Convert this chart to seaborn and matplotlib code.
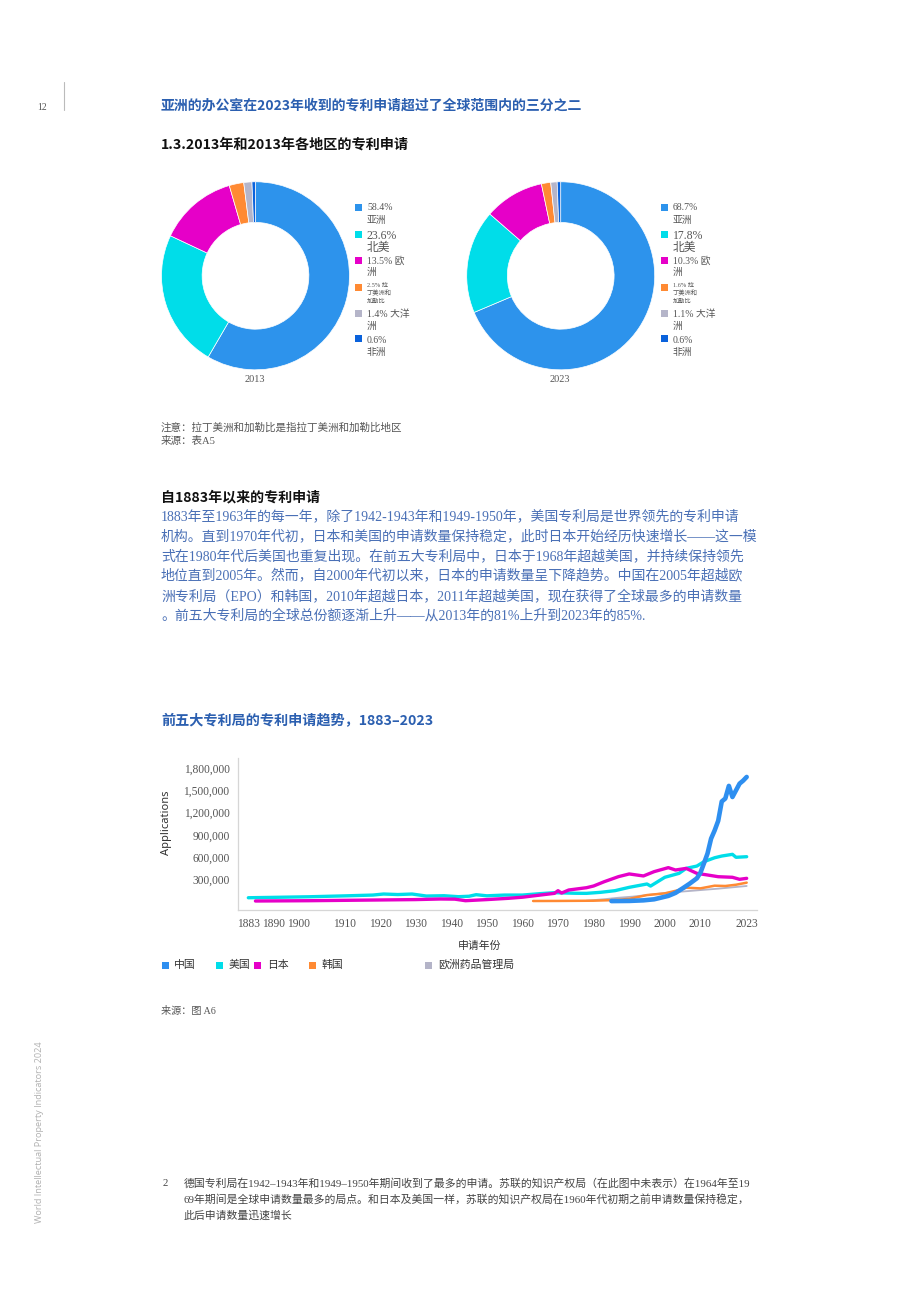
import matplotlib
matplotlib.use('Agg')
import matplotlib.pyplot as plt
import seaborn as sns
import pandas as pd
import numpy as np
from matplotlib.patches import Rectangle
from matplotlib.lines import Line2D
from matplotlib.transforms import ScaledTranslation

# ---------------- data ----------------
regions = ['亚洲', '北美', '欧洲', '拉丁美洲和加勒比', '大洋洲', '非洲']
share_2013 = [58.4, 23.6, 13.5, 2.5, 1.4, 0.6]
share_2023 = [68.7, 17.8, 10.3, 1.6, 1.1, 0.6]
region_colors = ['#2d93ec', '#00dde9', '#e600c8', '#ff8a33', '#b5b5c9', '#0a62dc']
# how each legend label breaks into lines in the reference
legend_fmt = ['{p}%|亚洲', '{p}%|北美', '{p}% 欧|洲', '{p}% 拉|丁美洲和|加勒比', '{p}% 大洋|洲', '{p}%|非洲']

offices = ['欧洲药品管理局', '韩国', '美国', '日本', '中国']
legend_offices = ['中国', '美国', '日本', '韩国', '欧洲药品管理局']
office_colors = {'中国': '#2e8ff0', '美国': '#00dde9', '日本': '#e600c8',
                 '韩国': '#ff8a33', '欧洲药品管理局': '#b4b4c8'}

china_years = [1985, 1990, 1994, 1997, 2001, 2003, 2005, 2007, 2009, 2010, 2011, 2012,
               2013, 2014, 2015, 2016, 2017, 2018, 2019, 2020, 2021, 2022, 2023]
china_k = [10, 12, 20, 34, 80, 120, 181, 245, 316, 390, 518, 650,
           850, 960, 1090, 1350, 1390, 1560, 1410, 1500, 1590, 1630, 1680]

us_years = [1883, 1890, 1900, 1910, 1918, 1921, 1925, 1929, 1933, 1938, 1942, 1945, 1947,
            1950, 1955, 1960, 1965, 1969, 1975, 1978, 1982, 1986, 1990, 1995, 1996, 2000,
            2004, 2006, 2009, 2011, 2014, 2016, 2019, 2020, 2023]
us_k = [55, 60, 68, 80, 91, 105, 98, 105, 78, 82, 69, 75, 96,
        81, 91, 91, 110, 123, 115, 114, 128, 150, 195, 240, 212, 330,
        383, 450, 481, 540, 593, 616, 639, 599, 607]

japan_years = [1885, 1900, 1918, 1930, 1937, 1941, 1944, 1950, 1956, 1960, 1965, 1969,
               1970, 1971, 1973, 1978, 1980, 1983, 1987, 1990, 1994, 1997, 2001, 2003,
               2006, 2009, 2012, 2015, 2019, 2021, 2023]
japan_k = [11, 15, 24, 30, 38, 36, 15, 30, 47, 62, 91, 114,
           150, 118, 159, 190, 213, 271, 339, 375, 348, 406, 460, 428,
           450, 383, 361, 338, 330, 303, 316]

korea_years = [1963, 1970, 1980, 1986, 1990, 1995, 1997, 2000, 2004, 2006, 2010, 2014,
               2017, 2020, 2023]
korea_k = [11, 12, 15, 24, 40, 91, 100, 114, 159, 190, 181, 217, 213, 230, 258]

epo_years = [1978, 1983, 1987, 1991, 1995, 2001, 2008, 2015, 2023]
epo_k = [15, 35, 55, 70, 91, 123, 150, 177, 213]

x_ticks = [1883, 1890, 1900, 1910, 1920, 1930, 1940, 1950, 1960, 1970, 1980, 1990, 2000, 2010, 2023]
y_ticks = [300000, 600000, 900000, 1200000, 1500000, 1800000]

paragraph = [
    '1883年至1963年的每一年，除了1942-1943年和1949-1950年，美国专利局是世界领先的专利申请',
    '机构。直到1970年代初，日本和美国的申请数量保持稳定，此时日本开始经历快速增长——这一模',
    '式在1980年代后美国也重复出现。在前五大专利局中，日本于1968年超越美国，并持续保持领先',
    '地位直到2005年。然而，自2000年代初以来，日本的申请数量呈下降趋势。中国在2005年超越欧',
    '洲专利局（EPO）和韩国，2010年超越日本，2011年超越美国，现在获得了全球最多的申请数量',
    '。前五大专利局的全球总份额逐渐上升——从2013年的81%上升到2023年的85%.',
]
footnote = [
    '德国专利局在1942–1943年和1949–1950年期间收到了最多的申请。苏联的知识产权局（在此图中未表示）在1964年至19',
    '69年期间是全球申请数量最多的局点。和日本及美国一样，苏联的知识产权局在1960年代初期之前申请数量保持稳定，',
    '此后申请数量迅速增长',
]

# ---------------- style ----------------
sns.set_theme(style='white')
SANS = ['Noto Sans CJK SC', 'DejaVu Sans']
SERIF = ['Liberation Serif', 'Noto Sans CJK SC', 'DejaVu Sans']
plt.rcParams['font.family'] = SERIF
plt.rcParams['axes.unicode_minus'] = False

W, H = 920, 1302
fig = plt.figure(figsize=(W / 100, H / 100), dpi=100)
fig.patch.set_facecolor('white')


def fx(x):
    return x / W


def fy(y):
    return 1 - y / H


def txt(x, y, s, size, color='#222222', family=SERIF, weight='normal', ha='left', va='center', **kw):
    fig.text(fx(x), fy(y), s, fontsize=size, color=color, family=family,
             fontweight=weight, ha=ha, va=va, **kw)


def square(x, y, color, s=7):
    fig.add_artist(Rectangle((fx(x - s / 2), fy(y + s / 2)), s / W, s / H,
                             transform=fig.transFigure, facecolor=color, edgecolor='none'))


# page number and rule
txt(42, 108, '12', 7, color='#555555', ha='center')
fig.add_artist(Line2D([fx(64), fx(64)], [fy(82), fy(110)], transform=fig.transFigure,
                      color='#bbbbbb', linewidth=0.8))

# headings
txt(161, 106, '亚洲的办公室在2023年收到的专利申请超过了全球范围内的三分之二', 10,
    color='#2b5fb0', family=SANS, weight='bold')
txt(161, 145, '1.3.2013年和2013年各地区的专利申请', 10.2, color='#111111', family=SANS, weight='bold')

# ---------------- donuts ----------------
R = 94
for cx, shares, year, lx in [(255.5, share_2013, '2013', 358), (560.7, share_2023, '2023', 664)]:
    cy = 275.8
    ax = fig.add_axes([fx(cx - R), fy(cy + R), 2 * R / W, 2 * R / H])
    ax.pie(shares, colors=region_colors, startangle=90, counterclock=False,
           wedgeprops=dict(width=0.432, edgecolor='white', linewidth=0.5))
    ax.set_xlim(-1, 1)
    ax.set_ylim(-1, 1)
    ax.set_aspect('equal')
    ax.axis('off')
    txt(cx - 1, 380, year, 7.5, color='#555555', ha='center')

    sq_y = [207, 234, 260, 287, 313, 339]
    line_y = [208, 236, 261, 285, 314, 340]
    gaps = [12, 12, 11, 8, 12, 12]
    sizes = [7, 8.5, 7, 4.5, 7, 7]
    for i, (p, fmt) in enumerate(zip(shares, legend_fmt)):
        square(lx, sq_y[i], region_colors[i], s=7)
        for j, part in enumerate(fmt.format(p=p).split('|')):
            txt(lx + 9, line_y[i] + j * gaps[i], part, sizes[i], color='#555555')

txt(161, 428, '注意：拉丁美洲和加勒比是指拉丁美洲和加勒比地区', 7.6, color='#555555')
txt(161, 441, '来源：表A5', 7.6, color='#555555')

# section text
txt(161, 497, '自1883年以来的专利申请', 10.1, color='#111111', family=SANS, weight='bold')
for k, line in enumerate(paragraph):
    txt(161, 516 + k * 20, line, 10.0, color='#4a70b6')

txt(161, 720, '前五大专利局的专利申请趋势，1883–2023', 10.2, color='#2b5fb0', family=SANS, weight='bold')

# ---------------- line chart ----------------
frames = []
for name, yrs, vals in [('欧洲药品管理局', epo_years, epo_k), ('韩国', korea_years, korea_k),
                        ('美国', us_years, us_k), ('日本', japan_years, japan_k),
                        ('中国', china_years, china_k)]:
    frames.append(pd.DataFrame({'year': yrs, 'applications': np.array(vals) * 1000, 'office': name}))
df = pd.concat(frames, ignore_index=True)

x0, x1 = 238, 757
y0, y1 = 758, 910
axl = fig.add_axes([fx(x0), fy(y1), (x1 - x0) / W, (y1 - y0) / H])
sns.lineplot(data=df, x='year', y='applications', hue='office', hue_order=offices,
             palette=office_colors, size='office', size_order=offices,
             sizes={'中国': 3.3, '美国': 2.4, '日本': 2.4, '韩国': 1.8, '欧洲药品管理局': 1.3},
             estimator=None, legend=False, ax=axl, solid_capstyle='round')

axl.set_xlim(1880.1, 2025.9)
axl.set_ylim(-110000, 1935000)
axl.set_xticks(x_ticks)
axl.set_xticklabels([str(t) for t in x_ticks])
axl.set_yticks(y_ticks)
axl.set_yticklabels([f'{v:,}' for v in y_ticks])
axl.tick_params(axis='both', length=0, labelsize=8.3, colors='#555555')
axl.tick_params(axis='y', pad=6)
axl.tick_params(axis='x', pad=6)
for lab in axl.get_xticklabels():
    lab.set_family(SERIF)
    if lab.get_text() == '1900':
        lab.set_transform(lab.get_transform() + ScaledTranslation(-0.10, 0, fig.dpi_scale_trans))
for lab in axl.get_yticklabels():
    lab.set_family(SERIF)
axl.set_xlabel('')
axl.set_ylabel('')
for side in ['top', 'right']:
    axl.spines[side].set_visible(False)
for side in ['left', 'bottom']:
    axl.spines[side].set_color('#d6d6d6')
    axl.spines[side].set_linewidth(0.9)
axl.grid(False)
axl.set_facecolor('white')

txt(167, 823, 'Applications', 8, color='#333333', family=['Noto Sans', 'DejaVu Sans'],
    ha='center', rotation=90)
txt(480, 946, '申请年份', 7.8, color='#333333', ha='center')

leg_x = [165, 220, 258, 313, 429]
for xx, name in zip(leg_x, legend_offices):
    square(xx, 965, office_colors[name], s=7)
    txt(xx + 9, 965, name, 7.8, color='#333333')

txt(161, 1011, '来源：图 A6', 7.3, color='#555555')

# side running title
txt(40, 1132, 'World Intellectual Property Indicators 2024', 6.6, color='#b0b0b0',
    family=['Open Sans', 'DejaVu Sans'], ha='center', rotation=90)

# footnote
txt(163, 1183, '2', 7.8, color='#444444')
for k, line in enumerate(footnote):
    txt(184, 1183 + k * 16.5, line, 7.8, color='#444444')

fig.savefig('out.png', dpi=100, facecolor='white')
